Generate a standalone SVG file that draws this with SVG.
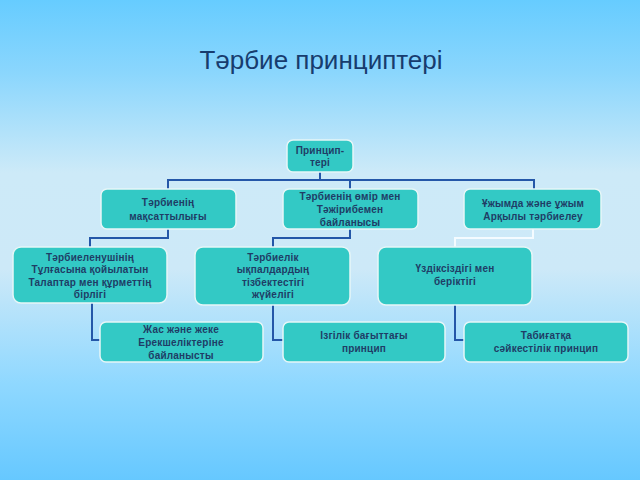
<svg xmlns="http://www.w3.org/2000/svg" width="640" height="480" viewBox="0 0 640 480">
<defs>
<linearGradient id="bg" x1="0" y1="0" x2="0" y2="1">
<stop offset="0" stop-color="#66ccff"/>
<stop offset="0.15" stop-color="#8ad6fd"/>
<stop offset="0.36" stop-color="#cdeaf8"/>
<stop offset="0.56" stop-color="#cde9f8"/>
<stop offset="0.8" stop-color="#8fd8ff"/>
<stop offset="1" stop-color="#66c8ff"/>
</linearGradient>
<style>
.box{fill:#33c9c5;stroke:#e6f6f7;stroke-width:1.5}
.t{font-family:"Liberation Sans",Arial,sans-serif;font-size:10px;font-weight:bold;fill:#1f3d66;text-anchor:middle;letter-spacing:0.2px}
.c{fill:none;stroke:#2457a8;stroke-width:2}
.cw{fill:none;stroke:#f4fbff;stroke-width:2}
.title{font-family:"Liberation Sans",Arial,sans-serif;font-size:26px;fill:#173c6e;text-anchor:middle}
</style>
</defs>
<rect width="640" height="480" fill="url(#bg)"/>
<text class="title" x="321" y="69">Тәрбие принциптері</text>
<g id="connectors">
<path class="c" d="M320,172 V180 M168,190 V180 H534 V190 M350,180 V190"/>
<path class="c" d="M168,229 V238 H90 V247"/>
<path class="c" d="M350,229 V238 H273 V247"/>
<path class="cw" d="M533,229 V238 H455 V247"/>
<path class="c" d="M92,303 V340 H100"/>
<path class="c" d="M273,305 V340 H283"/>
<path class="c" d="M455,305 V340 H464"/>
</g>
<g id="root">
<rect class="box" x="287" y="140" width="66" height="32" rx="6"/>
<text class="t" x="320" y="154">Принцип-</text>
<text class="t" x="320" y="166">тері</text>
</g>
<g id="n1">
<rect class="box" x="101" y="189" width="135" height="40" rx="6"/>
<text class="t" x="168" y="206">Тәрбиенің</text>
<text class="t" x="168" y="220">мақсаттылығы</text>
</g>
<g id="n2">
<rect class="box" x="283" y="189" width="135" height="40" rx="6"/>
<text class="t" x="350" y="200">Тәрбиенің өмір мен</text>
<text class="t" x="350" y="213">Тәжірибемен</text>
<text class="t" x="350" y="226">байланысы</text>
</g>
<g id="n3">
<rect class="box" x="464" y="189" width="137" height="40" rx="6"/>
<text class="t" x="533" y="207">Ұжымда және ұжым</text>
<text class="t" x="533" y="220">Арқылы тәрбиелеу</text>
</g>
<g id="n4">
<rect class="box" x="13" y="247" width="154" height="56" rx="8"/>
<text class="t" x="90" y="261">Тәрбиеленушінің</text>
<text class="t" x="90" y="273">Тұлғасына қойылатын</text>
<text class="t" x="90" y="286">Талаптар мен құрметтің</text>
<text class="t" x="90" y="298">бірлігі</text>
</g>
<g id="n5">
<rect class="box" x="195" y="247" width="155" height="58" rx="8"/>
<text class="t" x="273" y="261">Тәрбиелік</text>
<text class="t" x="273" y="273">ықпалдардың</text>
<text class="t" x="273" y="286">тізбектестігі</text>
<text class="t" x="273" y="298">жүйелігі</text>
</g>
<g id="n6">
<rect class="box" x="378" y="247" width="154" height="58" rx="8"/>
<text class="t" x="455" y="272">Үздіксіздігі мен</text>
<text class="t" x="455" y="285">беріктігі</text>
</g>
<g id="n7">
<rect class="box" x="100" y="322" width="163" height="40" rx="6"/>
<text class="t" x="181" y="333">Жас және жеке</text>
<text class="t" x="181" y="346">Ерекшеліктеріне</text>
<text class="t" x="181" y="359">байланысты</text>
</g>
<g id="n8">
<rect class="box" x="283" y="322" width="162" height="40" rx="6"/>
<text class="t" x="364" y="339">Ізгілік бағыттағы</text>
<text class="t" x="364" y="352">принцип</text>
</g>
<g id="n9">
<rect class="box" x="464" y="322" width="164" height="40" rx="6"/>
<text class="t" x="546" y="339">Табиғатқа</text>
<text class="t" x="546" y="352">сәйкестілік принцип</text>
</g>
</svg>
